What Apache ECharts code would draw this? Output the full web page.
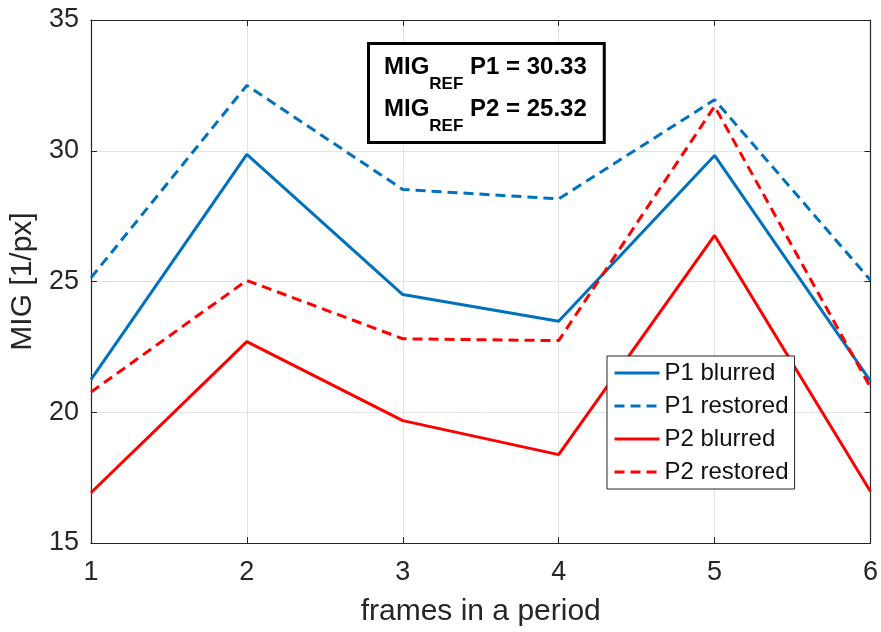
<!DOCTYPE html>
<html>
<head>
<meta charset="utf-8">
<script src="https://cdn.jsdelivr.net/npm/echarts@6/dist/echarts.min.js"></script>
<style>
  html, body { margin: 0; padding: 0; background: #fff; }
  #chart { width: 881px; height: 632px; }
</style>
</head>
<body>
<div id="chart"></div>
<script>
// Frames within one period
const frames = [1, 2, 3, 4, 5, 6];

// MIG values per frame [1/px]
const p1Blurred  = [21.25, 29.86, 24.50, 23.48, 29.82, 21.19];
const p1Restored = [25.14, 32.50, 28.52, 28.16, 31.95, 25.05];
const p2Blurred  = [16.92, 22.70, 19.68, 18.38, 26.76, 16.97];
const p2Restored = [20.77, 25.04, 22.81, 22.74, 31.70, 20.95];

// Reference MIG values shown in the annotation box
const migRefP1 = '30.33';
const migRefP2 = '25.32';

const yTicks = [15, 20, 25, 30, 35];

const BLUE = '#0072BD';
const RED = '#FF0000';
const AXIS = '#262626';
const FONT = 'Liberation Sans, Arial, sans-serif';

const pairs = vals => frames.map((f, i) => [f, vals[i]]);

function lineSeries(name, vals, color, dashed) {
  return {
    name: name,
    type: 'line',
    data: pairs(vals),
    symbol: 'none',
    animation: false,
    lineStyle: { color: color, width: 3, type: dashed ? [10, 6] : 'solid' },
    itemStyle: { color: color }
  };
}

const chart = echarts.init(document.getElementById('chart'));

const baseX = {
  type: 'value', min: 1, max: 6, interval: 1,
  axisLine: { show: true, onZero: false, lineStyle: { color: AXIS, width: 1.2 } },
  axisTick: { show: true, inside: true, length: 6, lineStyle: { color: AXIS } }
};
const baseY = {
  type: 'value', min: yTicks[0], max: yTicks[yTicks.length - 1], interval: 5,
  axisLine: { show: true, onZero: false, lineStyle: { color: AXIS, width: 1.2 } },
  axisTick: { show: true, inside: true, length: 6, lineStyle: { color: AXIS } }
};

chart.setOption({
  backgroundColor: '#fff',
  textStyle: { fontFamily: FONT },
  grid: { left: 90, right: 8, top: 20, bottom: 89, containLabel: false },
  xAxis: [
    Object.assign({}, baseX, {
      position: 'bottom',
      name: 'frames in a period',
      nameLocation: 'middle',
      nameGap: 54,
      nameTextStyle: { fontSize: 30, color: AXIS, fontFamily: FONT },
      axisLabel: { fontSize: 27, color: AXIS, margin: 16, fontFamily: FONT },
      splitLine: { show: true, lineStyle: { color: '#e3e3e3', width: 1 } }
    }),
    Object.assign({}, baseX, {
      position: 'top',
      axisLabel: { show: false },
      splitLine: { show: false }
    })
  ],
  yAxis: [
    Object.assign({}, baseY, {
      position: 'left',
      name: 'MIG [1/px]',
      nameLocation: 'middle',
      nameGap: 50,
      nameTextStyle: { fontSize: 30, color: AXIS, fontFamily: FONT },
      axisLabel: { fontSize: 27, color: AXIS, margin: 12, fontFamily: FONT },
      splitLine: { show: true, lineStyle: { color: '#e3e3e3', width: 1 } }
    }),
    Object.assign({}, baseY, {
      position: 'right',
      axisLabel: { show: false },
      splitLine: { show: false }
    })
  ],
  legend: {
    orient: 'vertical',
    left: 607,
    top: 356,
    padding: [5, 6, 5, 6],
    itemGap: 9,
    itemWidth: 45,
    itemHeight: 26,
    backgroundColor: '#fff',
    borderColor: AXIS,
    borderWidth: 1,
    borderRadius: 0,
    itemStyle: { opacity: 0 },
    lineStyle: { width: 3 },
    textStyle: { fontSize: 24, color: '#111', fontFamily: FONT },
    data: ['P1 blurred', 'P1 restored', 'P2 blurred', 'P2 restored']
  },
  graphic: [
    {
      type: 'text',
      left: 367,
      top: 42,
      z: 100,
      style: {
        text: '{b|MIG}{s|REF}{b| P1 = ' + migRefP1 + '}\n{b|MIG}{s|REF}{b| P2 = ' + migRefP2 + '}',
        backgroundColor: '#fff',
        borderColor: '#000',
        borderWidth: 3,
        padding: [6, 16, 6, 14],
        rich: {
          b: { fontSize: 24, fontWeight: 'bold', fontFamily: FONT, color: '#000', lineHeight: 42, verticalAlign: 'top', padding: [4, 0, 0, 0] },
          s: { fontSize: 17, fontWeight: 'bold', fontFamily: FONT, color: '#000', lineHeight: 42, verticalAlign: 'bottom', padding: [0, 0, 0, 0] }
        }
      }
    }
  ],
  series: [
    lineSeries('P1 blurred', p1Blurred, BLUE, false),
    lineSeries('P1 restored', p1Restored, BLUE, true),
    lineSeries('P2 blurred', p2Blurred, RED, false),
    lineSeries('P2 restored', p2Restored, RED, true)
  ]
});
</script>
</body>
</html>
